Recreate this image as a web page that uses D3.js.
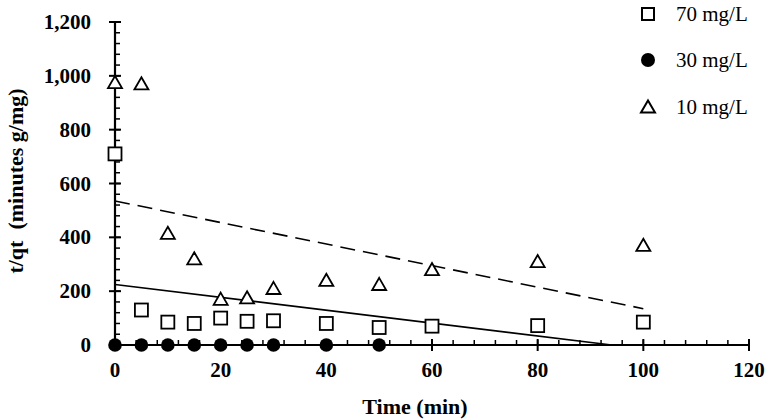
<!DOCTYPE html>
<html>
<head>
<meta charset="utf-8">
<script src="https://cdn.jsdelivr.net/npm/d3@7"></script>
<style>
  body { margin: 0; background: #fff; }
  svg text { font-family: "Liberation Serif", "Times New Roman", serif; fill: #000; }
  .tick-lab { font-weight: bold; font-size: 21px; }
  .title { font-weight: bold; font-size: 22px; }
  .leg { font-size: 21px; }
</style>
</head>
<body>
<svg id="chart" width="770" height="420"></svg>
<script>
// time points (min)
const time70 = [0, 5, 10, 15, 20, 25, 30, 40, 50, 60, 80, 100];
const qt70 = [710, 130, 85, 80, 100, 88, 90, 80, 65, 70, 72, 85];
const time30 = [0, 5, 10, 15, 20, 25, 30, 40, 50];
const qt30 = [0, 0, 0, 0, 0, 0, 0, 0, 0];
const time10 = [0, 5, 10, 15, 20, 25, 30, 40, 50, 60, 80, 100];
const qt10 = [975, 970, 415, 320, 170, 175, 210, 240, 225, 280, 310, 370];
// fitted trend lines (endpoints)
const solidFit = [[0, 225], [94, 0]];
const dashedFit = [[0, 535], [100, 135]];
const xTicks = [0, 20, 40, 60, 80, 100, 120];
const yTicks = [0, 200, 400, 600, 800, 1000, 1200];
const legendLabels = ["70 mg/L", "30 mg/L", "10 mg/L"];

const svg = d3.select("#chart");
const x = d3.scaleLinear().domain([0, 120]).range([115, 749]);
const y = d3.scaleLinear().domain([0, 1200]).range([345, 22]);

// fit lines
const line = d3.line().x(d => x(d[0])).y(d => y(d[1]));
svg.append("path").datum(solidFit).attr("d", line)
  .attr("fill", "none").attr("stroke", "#000").attr("stroke-width", 1.6);
svg.append("path").datum(dashedFit).attr("d", line)
  .attr("fill", "none").attr("stroke", "#000").attr("stroke-width", 1.6)
  .attr("stroke-dasharray", "15,8");

// axes
const g = svg.append("g");
// minor ticks
g.selectAll(".mx").data(d3.range(0, 121, 4)).enter().append("line")
  .attr("x1", d => x(d)).attr("x2", d => x(d))
  .attr("y1", y(0)).attr("y2", y(0) - 5)
  .attr("stroke", "#000").attr("stroke-width", 1.5);
g.selectAll(".my").data(d3.range(0, 1201, 40)).enter().append("line")
  .attr("x1", x(0)).attr("x2", x(0) + 5)
  .attr("y1", d => y(d)).attr("y2", d => y(d))
  .attr("stroke", "#000").attr("stroke-width", 1.5);
// major ticks
g.selectAll(".Mx").data(xTicks).enter().append("line")
  .attr("x1", d => x(d)).attr("x2", d => x(d))
  .attr("y1", y(0) - 6).attr("y2", y(0) + 6)
  .attr("stroke", "#000").attr("stroke-width", 2);
g.selectAll(".My").data(yTicks).enter().append("line")
  .attr("x1", x(0) - 6).attr("x2", x(0) + 6)
  .attr("y1", d => y(d)).attr("y2", d => y(d))
  .attr("stroke", "#000").attr("stroke-width", 2);
// axis lines
g.append("line").attr("x1", x(0)).attr("x2", x(120)).attr("y1", y(0)).attr("y2", y(0))
  .attr("stroke", "#000").attr("stroke-width", 2.2);
g.append("line").attr("x1", x(0)).attr("x2", x(0)).attr("y1", y(0)).attr("y2", y(1200))
  .attr("stroke", "#000").attr("stroke-width", 2.2);

// tick labels
g.selectAll(".xl").data(xTicks).enter().append("text").attr("class", "tick-lab")
  .attr("x", d => x(d)).attr("y", 377).attr("text-anchor", "middle").text(d => d);
g.selectAll(".yl").data(yTicks).enter().append("text").attr("class", "tick-lab")
  .attr("x", 91).attr("y", d => y(d) + 7).attr("text-anchor", "end").text(d3.format(","));

// titles
svg.append("text").attr("class", "title").attr("x", 415).attr("y", 414)
  .attr("text-anchor", "middle").text("Time (min)");
svg.append("text").attr("class", "title")
  .attr("transform", "translate(23,181) rotate(-90)")
  .attr("text-anchor", "middle").attr("xml:space", "preserve").text("t/qt  (minutes g/mg)");

// markers
const sq = 13, tri = d3.symbol().type(d3.symbolTriangle).size(85);
function squares(sel, xs, ys) {
  sel.selectAll(null).data(xs).enter().append("rect")
    .attr("x", (d) => x(d) - sq / 2).attr("y", (d, i) => y(ys[i]) - sq / 2)
    .attr("width", sq).attr("height", sq)
    .attr("fill", "#fff").attr("stroke", "#000").attr("stroke-width", 1.8);
}
function circles(sel, xs, ys) {
  sel.selectAll(null).data(xs).enter().append("circle")
    .attr("cx", d => x(d)).attr("cy", (d, i) => y(ys[i])).attr("r", 6.8)
    .attr("fill", "#000");
}
function triangles(sel, xs, ys) {
  sel.selectAll(null).data(xs).enter().append("path")
    .attr("d", tri)
    .attr("transform", (d, i) => `translate(${x(d)},${y(ys[i]) + 1.5})`)
    .attr("fill", "#fff").attr("stroke", "#000").attr("stroke-width", 1.8);
}
const marks = svg.append("g");
squares(marks, time70, qt70);
triangles(marks, time10, qt10);
circles(marks, time30, qt30);

// legend
const leg = svg.append("g");
const legY = [14, 60, 107];
leg.append("rect").attr("x", 648 - 6).attr("y", legY[0] - 6)
  .attr("width", 12).attr("height", 12)
  .attr("fill", "#fff").attr("stroke", "#000").attr("stroke-width", 2);
leg.append("circle").attr("cx", 648).attr("cy", legY[1]).attr("r", 7).attr("fill", "#000");
leg.append("path").attr("d", tri).attr("transform", `translate(648,${legY[2] + 1.5})`)
  .attr("fill", "#fff").attr("stroke", "#000").attr("stroke-width", 2);
leg.selectAll(".lt").data(legendLabels).enter().append("text").attr("class", "leg")
  .attr("x", 676).attr("y", (d, i) => legY[i] + 7).text(d => d);
</script>
</body>
</html>
